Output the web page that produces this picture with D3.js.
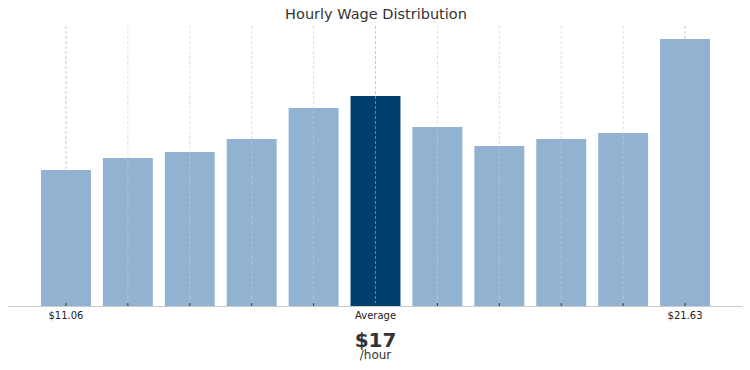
<!DOCTYPE html>
<html>
<head>
<meta charset="utf-8">
<script src="https://cdn.jsdelivr.net/npm/d3@7"></script>
<style>
  body { margin: 0; background: #fff; }
  svg { display: block; font-family: "DejaVu Sans", sans-serif; }
</style>
</head>
<body>
<svg id="chart" width="750" height="370"></svg>
<script>
// ---- //
// Data //
// ---- //

// share of workers in each wage bucket
const buckets = [0, 1, 2, 3, 4, 5, 6, 7, 8, 9, 10];
const shares = [13.6, 14.8, 15.4, 16.7, 19.8, 21.0, 17.9, 16.0, 16.7, 17.3, 26.7];
// only three buckets get a label under the axis
const tickLabels = { 0: "$11.06", 5: "Average", 10: "$21.63" };
const averageIndex = 5;
const averageWage = "$17";

// ------ //
// Layout //
// ------ //

const plotTop = 26;
const plotBase = 306;

const x = d3.scaleBand()
    .domain(buckets)
    .range([41, 710])
    .paddingInner(0.1935)
    .paddingOuter(0);

const y = d3.scaleLinear()
    .domain([0, 28])
    .range([plotBase, plotTop]);

const svg = d3.select("#chart");

// title
svg.append("text")
    .attr("x", 376)
    .attr("y", 19)
    .attr("text-anchor", "middle")
    .attr("font-size", 14.5)
    .attr("fill", "#333")
    .text("Hourly Wage Distribution");

// bars
svg.append("g")
    .selectAll("rect")
    .data(buckets)
    .join("rect")
    .attr("x", d => x(d))
    .attr("width", x.bandwidth())
    .attr("y", d => y(shares[d]))
    .attr("height", d => plotBase - y(shares[d]))
    .attr("fill", d => d === averageIndex ? "#003f6b" : "#91b3d1");

// dashed grid lines on top of the bars
svg.append("g")
    .selectAll("line")
    .data(buckets)
    .join("line")
    .attr("x1", d => x(d) + x.bandwidth() / 2)
    .attr("x2", d => x(d) + x.bandwidth() / 2)
    .attr("y1", plotTop)
    .attr("y2", plotBase)
    .attr("stroke", d => tickLabels[d] ? "#aaa" : "#ccc")
    .attr("stroke-opacity", 0.8)
    .attr("stroke-dasharray", "3,2")
    .attr("stroke-width", 0.8);

// axis
const axis = d3.axisBottom(x)
    .tickSize(-3)
    .tickPadding(6)
    .tickFormat(d => tickLabels[d] || "");

const gAxis = svg.append("g")
    .attr("transform", `translate(0,${plotBase})`)
    .call(axis);
gAxis.select(".domain").remove();
gAxis.selectAll(".tick line").attr("stroke", "#333");
gAxis.selectAll(".tick text")
    .attr("font-family", "DejaVu Sans, sans-serif")
    .attr("font-size", 10)
    .attr("fill", "#222");

svg.append("line")
    .attr("x1", 8)
    .attr("x2", 743)
    .attr("y1", plotBase + 0.5)
    .attr("y2", plotBase + 0.5)
    .attr("stroke", "#ccc");

// average value under the axis
const cx = x(averageIndex) + x.bandwidth() / 2;
svg.append("text")
    .attr("x", cx)
    .attr("y", 347)
    .attr("text-anchor", "middle")
    .attr("font-size", 20)
    .attr("font-weight", "bold")
    .attr("fill", "#333")
    .text(averageWage);
svg.append("text")
    .attr("x", cx)
    .attr("y", 359)
    .attr("text-anchor", "middle")
    .attr("font-size", 12)
    .attr("fill", "#333")
    .text("/hour");
</script>
</body>
</html>
